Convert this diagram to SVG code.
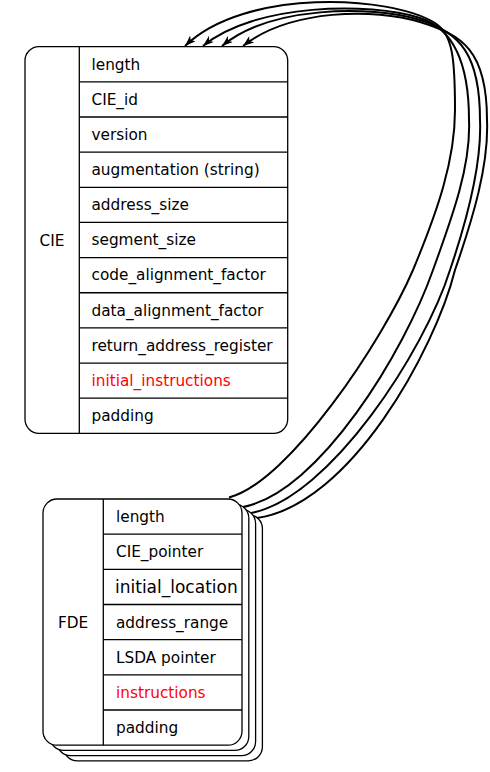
<svg xmlns="http://www.w3.org/2000/svg" width="490" height="772" viewBox="0 0 490 772">
<defs>
<style>
.box{fill:#fff;stroke:#000;stroke-width:1.3}
.ln{stroke:#000;stroke-width:1.3;fill:none}
.t{font-family:"DejaVu Sans",Verdana,sans-serif;font-size:15.3px;fill:#000}
.big{font-size:17px}
.red{fill:#ff0000}
.mid{text-anchor:middle}
.edge{fill:none;stroke:#000;stroke-width:2}
</style>
<marker id="ah" viewBox="0 0 11 8" markerWidth="11" markerHeight="8" refX="11" refY="4" orient="auto" markerUnits="userSpaceOnUse">
<path d="M0,0 L11,4 L0,8 L3,4 z" fill="#000"/>
</marker>
</defs>
<rect width="490" height="772" fill="#fff"/>

<g id="CIE">
<rect class="box" x="25" y="46.7" width="262.7" height="386.6" rx="14" ry="14"/>
<line class="ln" x1="79.3" y1="46.7" x2="79.3" y2="433.3"/>
<path class="ln" d="M79.3,81.85H287.7M79.3,117H287.7M79.3,152.15H287.7M79.3,187.3H287.7M79.3,222.45H287.7M79.3,257.6H287.7M79.3,292.75H287.7M79.3,327.9H287.7M79.3,363.05H287.7M79.3,398.2H287.7"/>
<text class="t mid" x="52" y="245.5">CIE</text>
<text class="t" x="91.5" y="69.5">length</text>
<text class="t" x="91.5" y="104.6">CIE_id</text>
<text class="t" x="91.5" y="139.8">version</text>
<text class="t" x="91.5" y="174.9">augmentation (string)</text>
<text class="t" x="91.5" y="210.1">address_size</text>
<text class="t" x="91.5" y="245.2">segment_size</text>
<text class="t" x="91.5" y="280.4">code_alignment_factor</text>
<text class="t" x="91.5" y="315.5">data_alignment_factor</text>
<text class="t" x="91.5" y="350.7">return_address_register</text>
<text class="t red" x="91.5" y="385.8">initial_instructions</text>
<text class="t" x="91.5" y="421">padding</text>
</g>

<g id="FDE">
<rect class="box" x="63.4" y="514.6" width="199" height="246.2" rx="14" ry="14"/>
<rect class="box" x="56.6" y="509.4" width="199" height="246.2" rx="14" ry="14"/>
<rect class="box" x="49.8" y="504.2" width="199" height="246.2" rx="14" ry="14"/>
<rect class="box" x="43" y="499" width="199" height="246.2" rx="14" ry="14"/>
<line class="ln" x1="103.3" y1="499" x2="103.3" y2="745.2"/>
<path class="ln" d="M103.3,534.17H242M103.3,569.34H242M103.3,604.51H242M103.3,639.68H242M103.3,674.85H242M103.3,710.02H242"/>
<text class="t mid" x="73" y="627.5">FDE</text>
<text class="t" x="116" y="522">length</text>
<text class="t" x="116" y="557.1">CIE_pointer</text>
<text class="t big" x="115" y="592.8">initial_location</text>
<text class="t" x="116" y="627.5">address_range</text>
<text class="t" x="116" y="662.6">LSDA pointer</text>
<text class="t red" x="116" y="697.8">instructions</text>
<text class="t" x="116" y="733">padding</text>
</g>

<g id="connectors">
<path class="edge" marker-end="url(#ah)" d="M229,497.5 C289,482 383,340 413,270 C438,210 455,160 455,110 C455,60 453,34 435,23 C390,-5 245,-12 185,46"/>
<path class="edge" marker-end="url(#ah)" d="M243,507 C320,492 405,350 433,270 C453,215 471,165 469,120 C469,60 452,28 420,18 C370,2 255,3 203,46"/>
<path class="edge" marker-end="url(#ah)" d="M251,513 C330,498 425,350 450,270 C467,220 482,165 480,120 C480,55 460,32 420,20 C370,5 270,6 222,46"/>
<path class="edge" marker-end="url(#ah)" d="M257,518 C350,505 435,350 455,270 C473,218 489,165 487,120 C487,50 462,35 420,22 C375,8 290,9 243,46"/>
</g>
</svg>
